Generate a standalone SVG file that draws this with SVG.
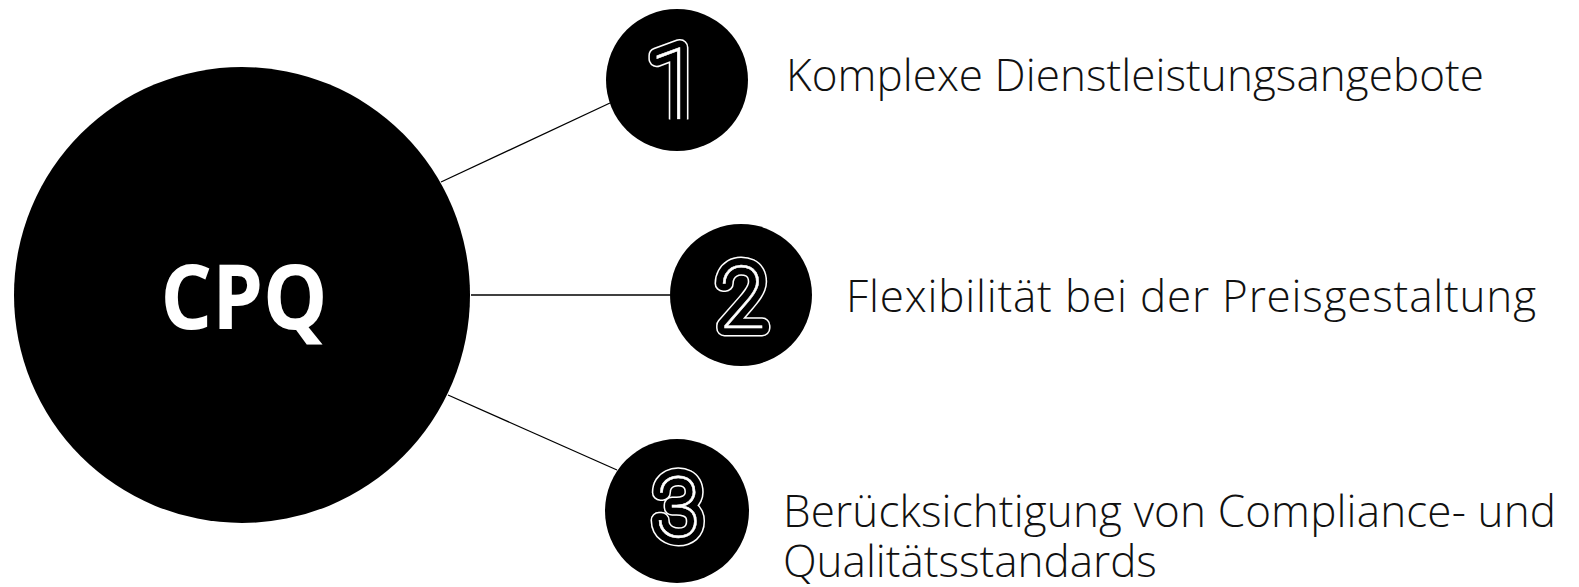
<svg xmlns="http://www.w3.org/2000/svg" width="1579" height="587" viewBox="0 0 1579 587">
<style>
.lbl{font-family:"Open Sans","Liberation Sans",sans-serif;font-weight:300;font-size:44px;fill:#111}
.hub{font-family:"Open Sans","Liberation Sans",sans-serif;font-weight:700;font-size:90px;fill:#fff}
.dg{font-family:Roboto,"Open Sans",sans-serif;font-weight:100;text-anchor:middle}
.o1{fill:#fff;stroke:#fff;stroke-width:17;stroke-linejoin:round}
.o2{fill:#000;stroke:#000;stroke-width:14;stroke-linejoin:round}
.o3{fill:#fff;stroke:#fff;stroke-width:0.5}
.conn{stroke:#000;stroke-width:1.3;fill:none}
</style>
<rect width="1579" height="587" fill="#fff"/>
<g id="connectors">
<line class="conn" x1="441" y1="182" x2="610" y2="103"/>
<line class="conn" x1="471" y1="295" x2="670" y2="295"/>
<line class="conn" x1="448" y1="395" x2="617" y2="470"/>
</g>
<g id="hub">
<circle cx="242" cy="295" r="228" fill="#000"/>
<text class="hub" x="244" y="329" text-anchor="middle" textLength="167" lengthAdjust="spacingAndGlyphs">CPQ</text>
</g>
<g id="node1">
<circle cx="677" cy="80" r="71" fill="#000"/>
<g font-size="100">
<text class="dg o1" x="675" y="119">1</text>
<text class="dg o2" x="675" y="119">1</text>
<text class="dg o3" x="675" y="119">1</text>
</g>
<rect x="660" y="119.5" width="40" height="10" fill="#000"/>
<text class="lbl" x="786" y="91" textLength="698" lengthAdjust="spacing">Komplexe Dienstleistungsangebote</text>
</g>
<g id="node2">
<circle cx="741" cy="295" r="71" fill="#000"/>
<g font-size="88">
<text class="dg o1" x="742" y="328">2</text>
<text class="dg o2" x="742" y="328">2</text>
<text class="dg o3" x="742" y="328">2</text>
</g>
<text class="lbl" x="846" y="312" textLength="690" lengthAdjust="spacing">Flexibilität bei der Preisgestaltung</text>
</g>
<g id="node3">
<circle cx="677" cy="511" r="72" fill="#000"/>
<g font-size="85">
<text class="dg o1" x="678" y="537">3</text>
<text class="dg o2" x="678" y="537">3</text>
<text class="dg o3" x="678" y="537">3</text>
</g>
<text class="lbl" x="783" y="527" textLength="773" lengthAdjust="spacing">Berücksichtigung von Compliance- und</text>
<text class="lbl" x="783" y="577">Qualitätsstandards</text>
</g>
</svg>
